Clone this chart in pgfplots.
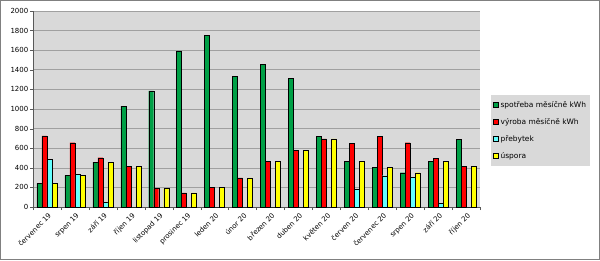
\documentclass[border=0pt]{standalone}
\usepackage{pgfplots}
\pgfplotsset{compat=1.18}
\usepackage{fontspec}
\setmainfont{DejaVu Sans}
\definecolor{cgreen}{RGB}{0,160,70}
\definecolor{cred}{RGB}{255,0,0}
\definecolor{ccyan}{RGB}{100,255,255}
\definecolor{cyell}{RGB}{255,255,0}
\definecolor{plotbg}{RGB}{217,217,217}
\definecolor{gridc}{RGB}{160,160,160}
\begin{document}
\begin{tikzpicture}[x=1bp,y=1bp]
\path[use as bounding box] (0,0) rectangle (600,260);
\draw[gray,line width=1bp] (0.5,0.5) rectangle (599.5,259.5);
\begin{axis}[
  at={(33bp,53bp)}, anchor=south west, scale only axis,
  width=447bp, height=196bp,
  xmin=-0.5, xmax=15.5, ymin=0, ymax=2000,
  ybar=0pt, bar width=5bp,
  axis background/.style={fill=plotbg},
  axis x line*=bottom, axis y line*=left,
  axis line style={gray!70!black, line width=0.6pt},
  xtick={0,...,15},
  xticklabels={červenec 19,srpen 19,září 19,říjen 19,listopad 19,prosinec 19,leden 20,únor 20,březen 20,duben 20,květen 20,červen 20,červenec 20,srpen 20,září 20,říjen 20},
  major x tick style={draw=none},
  minor xtick={-0.5,0.5,...,15.5},
  minor x tick style={gray!70!black},
  minor tick length=3bp,
  ytick distance=200,
  major tick length=3bp,
  tick align=outside,
  y tick style={gray!70!black},
  ymajorgrids, grid style={gridc, line width=0.6pt},
  tick label style={font=\fontsize{7}{8}\selectfont},
  xticklabel style={rotate=45, anchor=north east, inner sep=1bp, yshift=-1bp},
  yticklabel style={inner sep=1.5bp},
  /pgf/number format/assume math mode=true,
  /pgf/number format/1000 sep={},
  legend style={at={(1.0246,0.571)}, anchor=north west, fill=plotbg, draw=none,
    font=\fontsize{7.5}{9}\selectfont, row sep=5.5bp, inner xsep=2bp, inner ysep=4bp},
  legend cell align=left,
  legend image code/.code={\draw[#1, draw=black, line width=0.4pt] (0bp,-2.5bp) rectangle (5bp,2.5bp);},
  every axis plot/.append style={draw=black, line width=0.4pt},
]
\addplot[fill=cgreen] coordinates {(0,241)(1,323)(2,459)(3,1030)(4,1186)(5,1592)(6,1750)(7,1335)(8,1457)(9,1315)(10,721)(11,466)(12,405)(13,350)(14,463)(15,687)};
\addplot[fill=cred] coordinates {(0,725)(1,656)(2,503)(3,415)(4,187)(5,143)(6,197)(7,296)(8,466)(9,578)(10,694)(11,646)(12,724)(13,656)(14,500)(15,412)};
\addplot[fill=ccyan] coordinates {(0,484)(1,333)(2,44)(3,0)(4,0)(5,0)(6,0)(7,0)(8,0)(9,0)(10,0)(11,180)(12,319)(13,306)(14,37)(15,0)};
\addplot[fill=cyell] coordinates {(0,241)(1,323)(2,459)(3,415)(4,187)(5,143)(6,197)(7,296)(8,466)(9,578)(10,694)(11,466)(12,405)(13,350)(14,463)(15,412)};
\legend{spotřeba měsíčně kWh,výroba měsíčně kWh,přebytek,úspora}
\end{axis}
\end{tikzpicture}
\end{document}
